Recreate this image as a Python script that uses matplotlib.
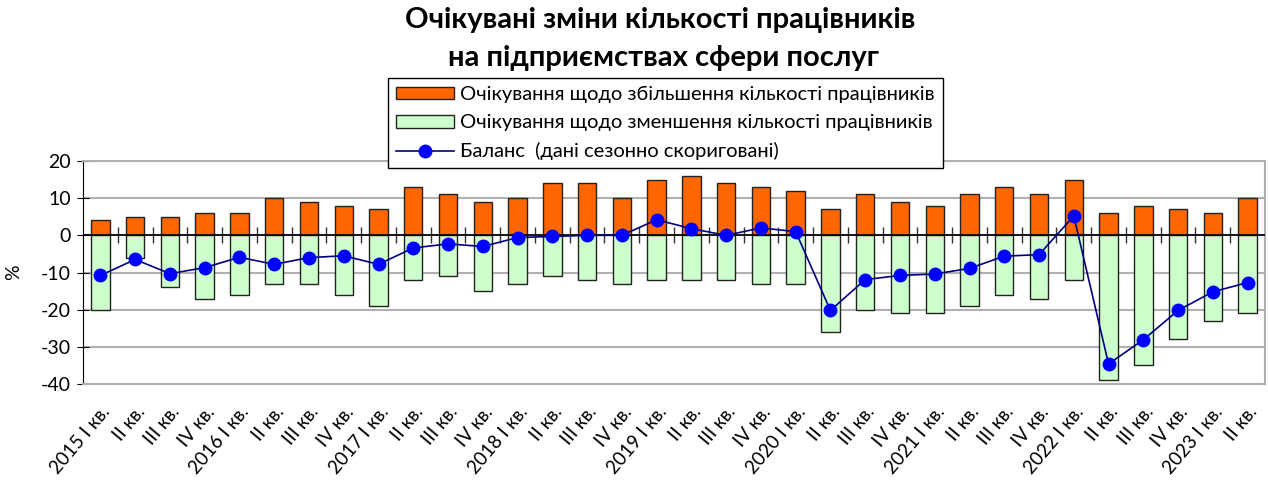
import matplotlib.pyplot as plt
import numpy as np

plt.rcParams['font.family'] = ['Lato', 'DejaVu Sans']
plt.rcParams['axes.unicode_minus'] = False

# quarters 2015 I - 2023 II
labels = ["2015 I кв.", "II кв.", "III кв.", "IV кв.",
          "2016 I кв.", "II кв.", "III кв.", "IV кв.",
          "2017 I кв.", "II кв.", "III кв.", "IV кв.",
          "2018 I кв.", "II кв.", "III кв.", "IV кв.",
          "2019 I кв.", "II кв.", "III кв.", "IV кв.",
          "2020 I кв.", "II кв.", "III кв.", "IV кв.",
          "2021 I кв.", "II кв.", "III кв.", "IV кв.",
          "2022 I кв.", "II кв.", "III кв.", "IV кв.",
          "2023 I кв.", "II кв."]

increase = [4, 5, 5, 6, 6, 10, 9, 8, 7, 13, 11, 9, 10, 14, 14, 10, 15, 16,
            14, 13, 12, 7, 11, 9, 8, 11, 13, 11, 15, 6, 8, 7, 6, 10]
decrease = [-20, -6, -14, -17, -16, -13, -13, -16, -19, -12, -11, -15, -13,
            -11, -12, -13, -12, -12, -12, -13, -13, -26, -20, -21, -21, -19,
            -16, -17, -12, -39, -35, -28, -23, -21]
balance = [-10.8, -6.5, -10.3, -8.7, -5.9, -7.8, -6.0, -5.5, -7.8, -3.4,
           -2.3, -3.0, -0.6, -0.3, 0.0, 0.0, 4.2, 1.8, 0.0, 2.0, 1.0, -20.2,
           -11.9, -10.8, -10.4, -8.9, -5.6, -5.2, 5.2, -34.6, -28.1, -20.2,
           -15.2, -12.7]

x = np.arange(len(labels))

fig = plt.figure(figsize=(12.68, 4.8), dpi=100)
ax = fig.add_axes([83 / 1268, 1 - 384 / 480, 1182 / 1268, 223 / 480])

b1 = ax.bar(x, increase, width=0.53, color="#FF6600", edgecolor="#222222",
            lw=1, label="Очікування щодо збільшення кількості працівників", zorder=2)
b2 = ax.bar(x, decrease, width=0.53, color="#CCFFCC", edgecolor="#222222",
            lw=1, label="Очікування щодо зменшення кількості працівників", zorder=2)
ln, = ax.plot(x, balance, color="#000080", lw=1.2, marker="o", ms=9,
              markerfacecolor="#0000FF", markeredgecolor="#0000FF",
              label="Баланс  (дані сезонно скориговані)", zorder=4)

ax.set_xlim(-0.5, len(labels) - 0.5)
ax.set_ylim(-40, 20)
ax.set_yticks(range(-40, 21, 10))
ax.grid(axis="y", color="#B0B0B0", lw=1.5, zorder=0)
ax.axhline(0, color="black", lw=1.2, zorder=3)

for side in ["top", "right", "bottom"]:
    ax.spines[side].set_color("#B0B0B0")
    ax.spines[side].set_linewidth(1.5)
ax.spines["left"].set_color("black")
ax.tick_params(axis="y", direction="inout", length=9, labelsize=14, pad=4)
ax.set_ylabel("%", fontsize=14, labelpad=14)

ax.set_xticks(x)
ax.set_xticklabels(labels, rotation=50, ha="right", rotation_mode="anchor",
                   fontsize=13.5)
ax.tick_params(axis="x", length=0, pad=14)

# boundary ticks on the zero line
sec = ax.secondary_xaxis(2 / 3)
sec.set_xticks(x[:-1] + 0.5)
sec.set_xticklabels([])
sec.tick_params(direction="inout", length=12, width=1, color="#333333")
sec.spines["bottom"].set_visible(False)
sec.spines["top"].set_visible(False)

fig.text(660 / 1268, 1 - 20 / 480, "Очікувані зміни кількості працівників",
         ha="center", va="center", fontsize=21, fontweight="bold")
fig.text(663 / 1268, 1 - 58 / 480, "на підприємствах сфери послуг",
         ha="center", va="center", fontsize=21, fontweight="bold")

leg = fig.legend(handles=[b1, b2, ln], loc="upper left",
                 bbox_to_anchor=(388 / 1268, 1 - 78 / 480), fontsize=14.5,
                 frameon=True, fancybox=False, edgecolor="black",
                 framealpha=1, handlelength=2.9, handleheight=0.6,
                 labelspacing=0.55, borderpad=0.4, handletextpad=0.3,
                 borderaxespad=0)
leg.get_frame().set_linewidth(1.0)

fig.savefig("out.png", dpi=100)
